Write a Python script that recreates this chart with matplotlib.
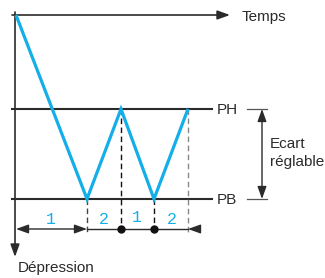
import matplotlib
matplotlib.use('Agg')
import matplotlib.pyplot as plt

# pressure cycle (time position, depression level)
t_curve = [16, 87, 121, 154, 188]
p_curve = [15, 199, 109, 199, 109]
PH = 109
PB = 199
PH_label = 'PH'
PB_label = 'PB'
x_label = 'Temps'
y_label = 'Dépression'
ecart_label = 'Ecart\nréglable'
phase_pos = [51, 104, 137, 172]
phase_y = [219, 219, 217, 219]
phase_labels = ['1', '2', '1', '2']

blue = '#14aee8'
dark = '#2b2b2b'

plt.rcParams['font.family'] = ['Liberation Sans', 'DejaVu Sans']

fig = plt.figure(figsize=(3.25, 2.78), dpi=100)
ax = fig.add_axes([0, 0, 1, 1])
ax.set_xlim(0, 325)
ax.set_ylim(278, 0)
ax.axis('off')

arrow_kw = dict(arrowstyle='-|>,head_length=0.75,head_width=0.27', color=dark, lw=1.2,
                shrinkA=0, shrinkB=0)
dim_kw = dict(color=dark, lw=1.0, shrinkA=0, shrinkB=0)

# axes
ax.annotate('', xy=(230, 15), xytext=(12, 15), arrowprops=arrow_kw)
ax.annotate('', xy=(15, 257), xytext=(15, 12), arrowprops=arrow_kw)
ax.text(242, 17, x_label, fontsize=11, color=dark, va='center', ha='left')
ax.text(18, 268, y_label, fontsize=11, color=dark, va='center', ha='left')

# PH / PB levels
for lvl, lab in [(PH, PH_label), (PB, PB_label)]:
    ax.plot([12, 212], [lvl, lvl], color=dark, lw=1.5)
    ax.text(217, lvl + 1, lab, fontsize=11, color=dark, va='center', ha='left')
    ax.plot([247, 267], [lvl, lvl], color='#555555', lw=0.9)

# adjustable gap
ax.annotate('', xy=(262, PB), xytext=(262, PH),
            arrowprops=dict(arrowstyle='<|-|>,head_length=0.75,head_width=0.27', **dim_kw))
ax.text(270, 153, ecart_label, fontsize=11, color=dark, va='center', ha='left',
        linespacing=1.3)

# dashed guides
dim_y = 229
ax.plot([87, 87], [PB, 233], color='#444444', lw=1.0, ls=(0, (4, 2.5)))
ax.plot([121, 121], [PH, 233], color='#111111', lw=1.0, ls=(0, (4, 2.5)))
ax.plot([154, 154], [PB, 233], color='#111111', lw=1.0, ls=(0, (4, 2.5)))
ax.plot([188, 188], [PH, 233], color='#888888', lw=1.0, ls=(0, (4, 2.5)))

# dimension line
ax.annotate('', xy=(16, dim_y), xytext=(87, dim_y),
            arrowprops=dict(arrowstyle='<|-|>,head_length=0.75,head_width=0.27', **dim_kw))
ax.plot([87, 188], [dim_y, dim_y], color=dark, lw=1.0)
ax.annotate('', xy=(188, dim_y), xytext=(200, dim_y),
            arrowprops=dict(arrowstyle='-|>,head_length=0.75,head_width=0.27', **dim_kw))
ax.plot([121, 154], [dim_y, dim_y], 'o', color='#111111', ms=5)

for x, y, lab in zip(phase_pos, phase_y, phase_labels):
    ax.text(x, y, lab, fontsize=12, color=blue, family='Liberation Mono',
            ha='center', va='center')

# depression curve
ax.plot(t_curve, p_curve, color=blue, lw=2.3, solid_joinstyle='miter',
        solid_capstyle='butt', zorder=5)

fig.savefig('out.png', dpi=100)
